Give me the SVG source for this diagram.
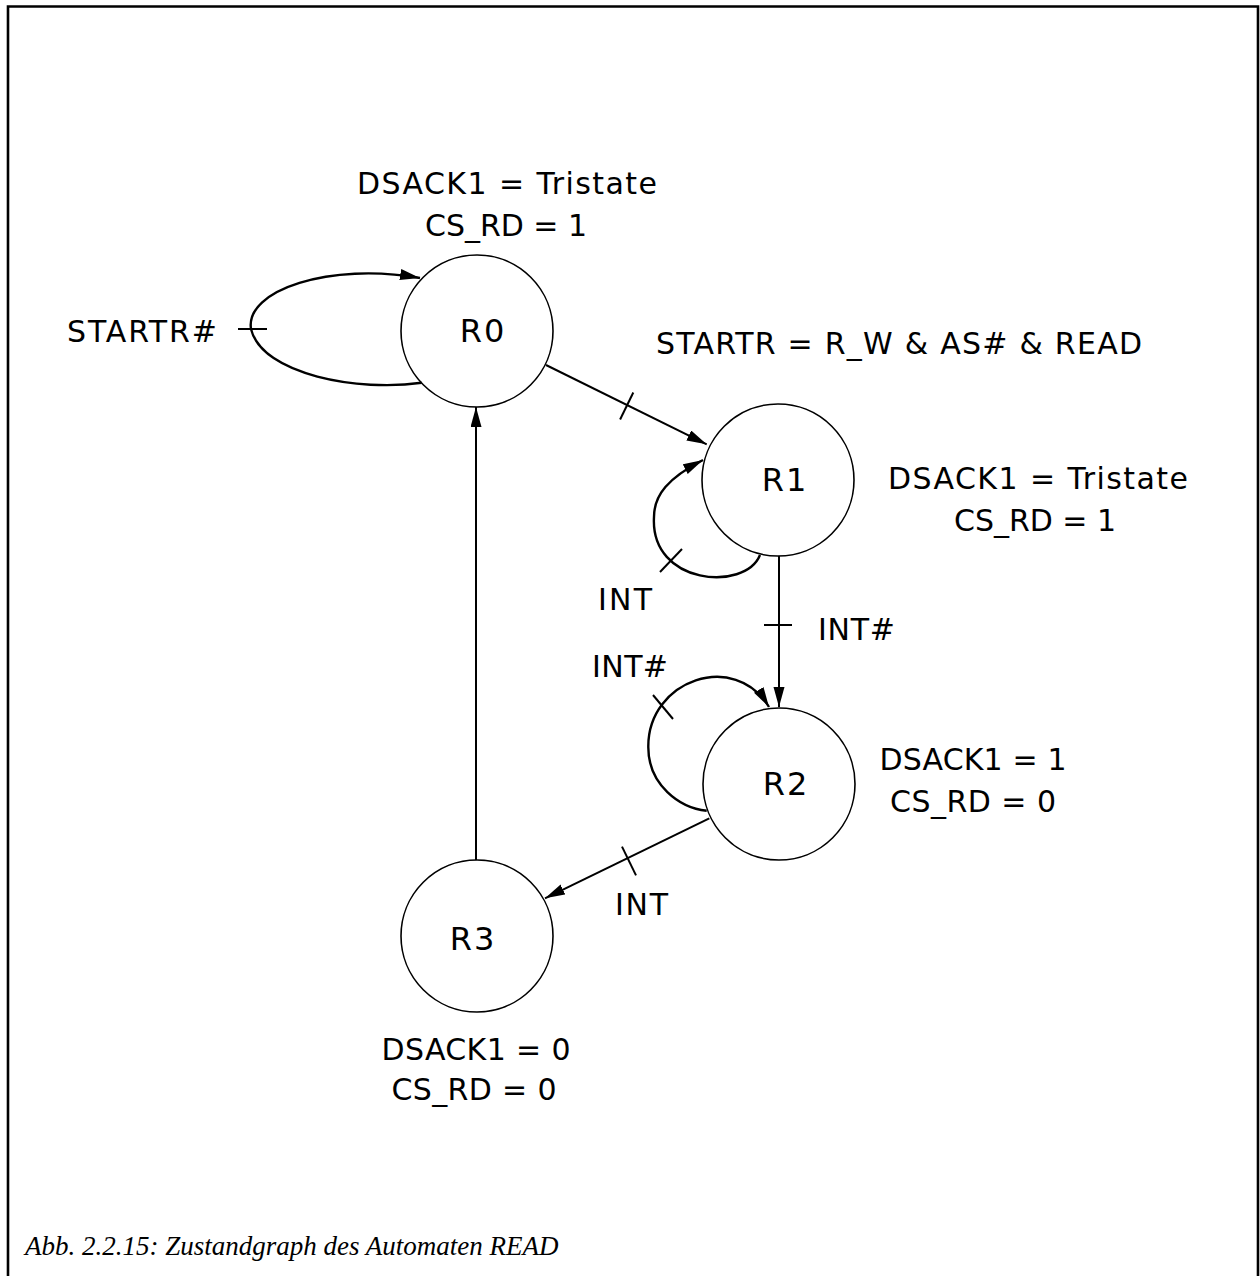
<svg xmlns="http://www.w3.org/2000/svg" width="1260" height="1276" viewBox="0 0 1260 1276">
<style>
.st{fill:none;stroke:#000;stroke-width:1.6}
.ln{fill:none;stroke:#000;stroke-width:2}
.lp{fill:none;stroke:#000;stroke-width:2.4}
.tk{stroke:#000;stroke-width:2}
text{font-family:"DejaVu Sans","Liberation Sans",sans-serif;font-size:30px;fill:#000}
.c{text-anchor:middle}
.nl{font-size:32px;letter-spacing:2px}
.cap{font-family:"Liberation Serif","Times New Roman",serif;font-style:italic;font-size:27px}
</style>
<defs>
<marker id="ah" markerUnits="userSpaceOnUse" markerWidth="22" markerHeight="12" refX="20" refY="5.5" orient="auto">
<path d="M0,0 L20,5.5 L0,11 z" fill="#000"/>
</marker>
</defs>
<rect width="1260" height="1276" fill="#fff"/>
<path d="M8,1276 V6.5 H1258 V1276" fill="none" stroke="#000" stroke-width="2.6"/>
<g id="connectors">
<path class="lp" d="M421.7,382.7 C360,392 262,375 251,329 C245,290 330,262 420,278" marker-end="url(#ah)"/>
<line class="tk" x1="238" y1="329" x2="267" y2="329"/>
<line class="ln" x1="546" y1="365" x2="706.7" y2="444.3" marker-end="url(#ah)"/>
<line class="tk" x1="633.3" y1="392.5" x2="620.1" y2="419.5"/>
<path class="lp" d="M760,555 C745,592 650,585 654,517 C654,495 668,478 703,460" marker-end="url(#ah)"/>
<line class="tk" x1="660" y1="572" x2="682" y2="549"/>
<line class="ln" x1="779" y1="556" x2="779" y2="707" marker-end="url(#ah)"/>
<line class="tk" x1="764" y1="625" x2="792" y2="625"/>
<path class="lp" d="M706.7,810.7 C680,808 648,785 648.3,746.7 C648,680 735,650 769,707" marker-end="url(#ah)"/>
<line class="tk" x1="653" y1="695" x2="673" y2="719"/>
<line class="ln" x1="709.3" y1="818.3" x2="545" y2="898.3" marker-end="url(#ah)"/>
<line class="tk" x1="622" y1="846.6" x2="636" y2="875.4"/>
<line class="ln" x1="476" y1="860" x2="476" y2="407" marker-end="url(#ah)"/>
</g>
<g id="R0">
<circle class="st" cx="477" cy="331" r="76"/>
<text x="483" y="342" class="c nl">R0</text>
</g>
<g id="R1">
<circle class="st" cx="778" cy="480" r="76"/>
<text x="785" y="491" class="c nl">R1</text>
</g>
<g id="R2">
<circle class="st" cx="779" cy="784" r="76"/>
<text x="786" y="795" class="c nl">R2</text>
</g>
<g id="R3">
<circle class="st" cx="477" cy="936" r="76"/>
<text x="473" y="950" class="c nl">R3</text>
</g>
<g id="labels">
<text x="507" y="194" class="c" textLength="300">DSACK1 = Tristate</text>
<text x="506" y="236" class="c" textLength="162">CS_RD = 1</text>
<text x="67" y="342" textLength="150">STARTR#</text>
<text x="656" y="354" textLength="486">STARTR = R_W &amp; AS# &amp; READ</text>
<text x="1038" y="489" class="c" textLength="300">DSACK1 = Tristate</text>
<text x="1035" y="531" class="c" textLength="162">CS_RD = 1</text>
<text x="598" y="610" textLength="54">INT</text>
<text x="818" y="640" textLength="77">INT#</text>
<text x="592" y="677" textLength="76">INT#</text>
<text x="973" y="770" class="c" textLength="187">DSACK1 = 1</text>
<text x="973" y="812" class="c" textLength="166">CS_RD = 0</text>
<text x="615" y="915" textLength="53">INT</text>
<text x="476" y="1060" class="c" textLength="189">DSACK1 = 0</text>
<text x="474" y="1100" class="c" textLength="165">CS_RD = 0</text>
<text x="25" y="1255" class="cap">Abb. 2.2.15: Zustandgraph des Automaten READ</text>
</g>
</svg>
